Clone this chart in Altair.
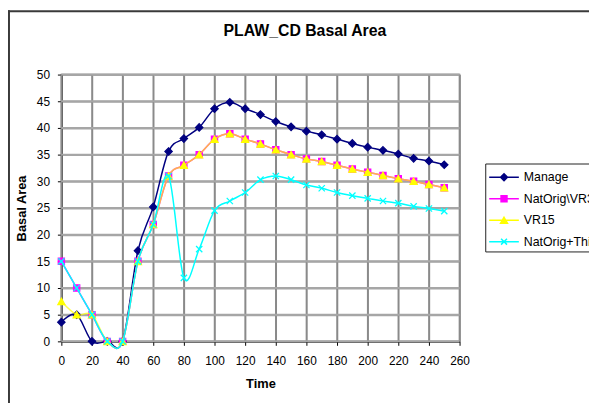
import altair as alt
import pandas as pd

# ---- data ----
times = [0, 10, 20, 30, 40, 50, 60, 70, 80, 90, 100, 110, 120, 130, 140, 150,
         160, 170, 180, 190, 200, 210, 220, 230, 240, 250]
manage = [3.6, 5.0, 0.0, 0.0, 0.0, 17.0, 25.2, 35.6, 38.0, 40.1, 43.6, 44.8, 43.6,
          42.5, 41.2, 40.2, 39.4, 38.7, 37.9, 37.1, 36.4, 35.8, 35.1, 34.3, 33.8, 33.1]
natorig_vr30 = [15.0, 10.0, 5.0, 0.0, 0.0, 15.0, 21.9, 31.0, 33.0, 35.0, 37.9, 38.9, 37.9,
                37.0, 35.9, 35.0, 34.2, 33.7, 33.0, 32.3, 31.7, 31.1, 30.5, 30.0, 29.4, 28.8]
vr15 = [7.5, 5.0, 5.0, 0.0, 0.0, 15.0, 21.9, 31.0, 33.0, 35.0, 37.9, 38.9, 37.9,
        37.0, 35.9, 35.0, 34.2, 33.7, 33.0, 32.3, 31.7, 31.1, 30.5, 30.0, 29.4, 28.8]
natorig_thin = [15.0, 10.0, 5.0, 0.0, 0.0, 15.0, 21.9, 31.0, 11.9, 17.3, 24.5, 26.3, 27.9,
                30.3, 31.0, 30.3, 29.3, 28.7, 27.9, 27.3, 26.8, 26.3, 25.9, 25.3, 24.9, 24.4]

series_names = ["Manage", "NatOrig\\VR30", "VR15", "NatOrig+Thin"]
series_values = [manage, natorig_vr30, vr15, natorig_thin]
x_ticks = list(range(0, 261, 20))
y_ticks = list(range(0, 51, 5))

# ---- styles ----
line_colors = ["#000080", "#FF00FF", "#FFFF00", "#00FFFF"]
fill_colors = ["#000080", "#FF00FF", "#FFFF00", "transparent"]
line_opacity = [1.0, 1.0, 0.7, 1.0]
marker_paths = [
    "M0,-1L1,0L0,1L-1,0Z",
    "M-1,-1H1V1H-1Z",
    "M0,-0.9L1,0.9H-1Z",
    "M-1,-1L1,1M1,-1L-1,1",
]
marker_sizes = [56, 40, 52, 40]
# legend symbols: unit = 10 px (symbolSize 400)
legend_paths = [
    "M-1.5,0H1.5M0,-0.35L0.35,0L0,0.35L-0.35,0Z",
    "M-1.5,0H1.5M-0.3,-0.3H0.3V0.3H-0.3Z",
    "M-1.5,0H1.5M0,-0.3L0.35,0.3H-0.35Z",
    "M-1.5,0H1.5M-0.3,-0.3L0.3,0.3M0.3,-0.3L-0.3,0.3",
]

FONT = "Liberation Sans"

x_scale = alt.Scale(domain=[0, 260], nice=False, zero=False)
y_scale = alt.Scale(domain=[0, 50], nice=False)

x_enc = alt.X(
    "Time:Q",
    scale=x_scale,
    axis=alt.Axis(
        values=x_ticks, title="Time", titleFontWeight="bold", titleFontSize=13,
        titleY=43, titleBaseline="middle", tickSize=4, labelPadding=10,
        grid=True, gridColor="#8a8a8a", gridWidth=1.5,
        labelFlush=False, labelOverlap=False,
    ),
)
y_enc = alt.Y(
    "BA:Q",
    scale=y_scale,
    axis=alt.Axis(
        values=y_ticks, title="Basal Area", titleFontWeight="bold", titleFontSize=13,
        titleAngle=270, titleX=-40, titleY=135, titleBaseline="middle", titleAlign="center",
        tickSize=4, labelPadding=8, grid=True, gridColor="#a6a6a6", gridWidth=2,
        labelOverlap=False,
    ),
)

# gridlines, drawn from the tick arrays through the scales (full span by default)
vgrid = alt.Chart(pd.DataFrame({"Time": x_ticks})).mark_rule(
    color="#8a8a8a", strokeWidth=1.5
).encode(x=x_enc)
hgrid = alt.Chart(pd.DataFrame({"BA": y_ticks})).mark_rule(
    color="#a6a6a6", strokeWidth=2
).encode(y=y_enc)

layers = [vgrid, hgrid]
for i, (name, vals) in enumerate(zip(series_names, series_values)):
    sdf = pd.DataFrame({"Time": times, "BA": vals})
    base = alt.Chart(sdf)
    line = base.mark_line(
        interpolate="cardinal", color=line_colors[i], strokeWidth=1.5, opacity=line_opacity[i]
    ).encode(x=x_enc, y=y_enc)
    pts = base.mark_point(
        shape=marker_paths[i], size=marker_sizes[i], fill=fill_colors[i],
        stroke=line_colors[i], strokeWidth=1.2 if i < 3 else 1.3, opacity=1,
    ).encode(x=x_enc, y=y_enc)
    layers += [line, pts]

# legend layer (no marks drawn; the scales drive the legend)
rows = []
for name, vals in zip(series_names, series_values):
    for t, v in zip(times, vals):
        rows.append({"Time": t, "BA": v, "Series": name})
df_all = pd.DataFrame(rows)

leg = alt.Legend(
    title=None, orient="none", legendX=429, legendY=90, padding=3,
    strokeColor="#222222", symbolSize=400, symbolStrokeWidth=1.5, symbolOffset=5,
    labelFont=FONT, labelFontSize=12.5, labelColor="black", labelOffset=9,
    rowPadding=3.7, symbolOpacity=1, labelLimit=300,
)
legend_layer = alt.Chart(df_all).transform_filter(
    alt.FieldLTPredicate(field="Time", lt=-1)
).mark_point(opacity=1, strokeWidth=1.5).encode(
    x=x_enc,
    y=y_enc,
    shape=alt.Shape("Series:N", scale=alt.Scale(domain=series_names, range=legend_paths), legend=leg),
    fill=alt.Fill("Series:N", scale=alt.Scale(domain=series_names, range=fill_colors), legend=leg),
    stroke=alt.Stroke("Series:N", scale=alt.Scale(domain=series_names, range=line_colors), legend=leg),
)

# outer chart frame (decoration)
frame_df = pd.DataFrame({"k": [0]})
frame_top = alt.Chart(frame_df).mark_rule(color="#3a3a3a", strokeWidth=2).encode(
    x=alt.value(-54), x2=alt.value(560), y=alt.value(-64)
)
frame_left = alt.Chart(frame_df).mark_rule(color="#3a3a3a", strokeWidth=2).encode(
    x=alt.value(-53), y=alt.value(-65), y2=alt.value(340)
)

chart = alt.layer(*layers, legend_layer, frame_top, frame_left).properties(
    width=403,
    height=270,
    title=alt.TitleParams(
        "PLAW_CD Basal Area", fontSize=16, fontWeight="bold", font=FONT, color="black",
        anchor="middle", frame="group", dx=45, offset=-37.5, baseline="middle",
    ),
    autosize=alt.AutoSizeParams(type="none"),
    padding={"left": 54, "top": 65, "right": 131, "bottom": 60},
    background="white",
).configure_axis(
    labelFont=FONT, labelFontSize=12, labelColor="black", titleFont=FONT, titleColor="black",
    domainColor="black", tickColor="black", domainWidth=1.2,
).configure_view(stroke="#8a8a8a", strokeWidth=1.5)

chart.save("out.html", embed_options={"renderer": "svg", "actions": False})
